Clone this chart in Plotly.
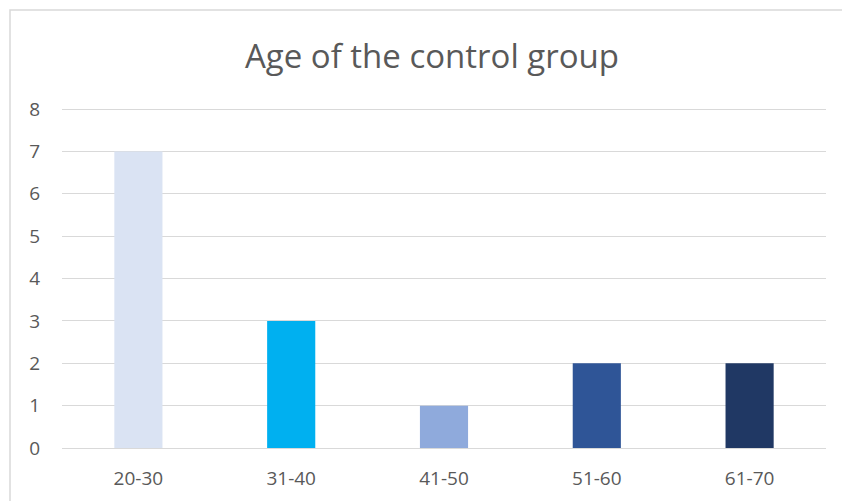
import plotly.graph_objects as go

# Age groups and counts in the control group
age_groups = ["20-30", "31-40", "41-50", "51-60", "61-70"]
counts = [7, 3, 1, 2, 2]
bar_colors = ["#DAE3F3", "#00B0F0", "#8FAADC", "#2F5597", "#203864"]
y_ticks = [0, 1, 2, 3, 4, 5, 6, 7, 8]

text_color = "#595959"
grid_color = "#D9D9D9"
font_family = "Open Sans, Liberation Sans, sans-serif"

fig = go.Figure(
    go.Bar(
        x=age_groups,
        y=counts,
        marker=dict(color=bar_colors, line=dict(width=0)),
        width=0.315,
        showlegend=False,
        hoverinfo="x+y",
    )
)

fig.update_layout(
    width=842,
    height=501,
    margin=dict(l=62, r=16, t=107, b=53),
    paper_bgcolor="white",
    plot_bgcolor="white",
    title=dict(
        text="Age of the control group",
        x=432 / 842,
        xanchor="center",
        y=1 - 56 / 501,
        yanchor="middle",
        font=dict(family=font_family, size=33, color=text_color),
    ),
    font=dict(family=font_family, size=19, color=text_color),
    xaxis=dict(
        showgrid=False,
        showline=False,
        zeroline=False,
        ticks="",
        automargin=False,
        ticklabelstandoff=17,
        tickfont=dict(size=19, color=text_color),
        range=[-0.5, 4.5],
    ),
    yaxis=dict(
        range=[0, 8.05],
        tickvals=y_ticks,
        showgrid=True,
        gridcolor=grid_color,
        gridwidth=1,
        zeroline=True,
        zerolinecolor=grid_color,
        zerolinewidth=1,
        showline=False,
        ticks="",
        automargin=False,
        ticklabelstandoff=21,
        tickfont=dict(size=19, color=text_color),
    ),
    shapes=[
        dict(
            type="rect",
            xref="paper",
            yref="paper",
            x0=(10 - 62) / 764,
            x1=1.2,
            y0=-0.5,
            y1=(448 - 10) / 341,
            line=dict(color=grid_color, width=1.5),
            fillcolor="rgba(0,0,0,0)",
            layer="below",
        )
    ],
)

fig.write_html("out.html")
